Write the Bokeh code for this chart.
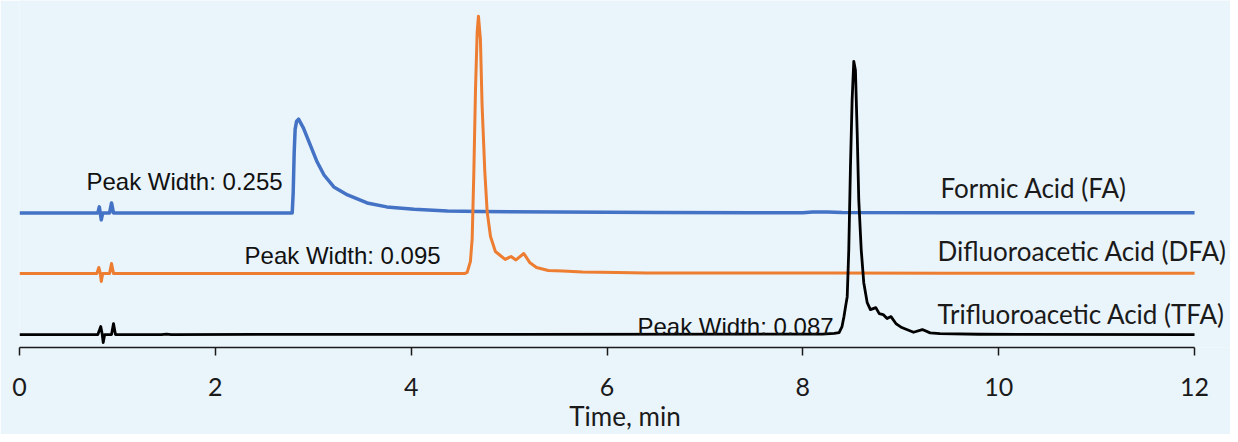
from bokeh.plotting import figure
from bokeh.models import Range1d, FixedTicker
from bokeh.embed import file_html
from bokeh.resources import INLINE
from bokeh.core.properties import value

BG = "#EAF4FB"

# ---- data: retention time (min) and detector response above each trace's own baseline (a.u.)
fa_time = [0.0, 0.80, 0.815, 0.825, 0.835, 0.85, 0.92, 0.94, 0.96, 2.785, 2.795, 2.805,
           2.815, 2.83, 2.85, 2.90, 2.97, 3.04, 3.11, 3.21, 3.35, 3.55, 3.75, 4.03, 4.37,
           4.71, 5.5, 6.5, 7.5, 8.0, 8.1, 8.25, 8.4, 9.5, 12.0]
fa_signal = [0, 0, 6, 0, -7, 0, 0, 10, 0, 0, 20, 60,
             84, 92, 94, 85, 68, 51, 38, 26, 18, 10, 6, 3.7, 2,
             1.3, 0.8, 0.4, 0.2, 0.2, 0.9, 0.9, 0.3, 0.2, 0.1]

dfa_time = [0.0, 0.79, 0.81, 0.825, 0.835, 0.85, 0.92, 0.94, 0.96, 4.55, 4.572, 4.605,
            4.623, 4.64, 4.657, 4.674, 4.687, 4.707, 4.724, 4.752, 4.776, 4.81, 4.86,
            4.91, 4.96, 5.02, 5.07, 5.15, 5.21, 5.28, 5.40, 5.55, 5.75, 6.1, 6.4, 8.0,
            8.3, 9.5, 12.0]
dfa_signal = [0, 0, 6, 0, -8, 0, 0, 10, 0, 0, 1, 12,
              35, 102, 185, 242, 258, 235, 169, 102, 62, 37, 22,
              18, 14, 17, 13.5, 20, 11, 6, 3, 2.5, 1.5, 1, 0.5, 0.3,
              0.5, 0.2, 0.2]

tfa_time = [0.0, 0.80, 0.83, 0.845, 0.855, 0.87, 0.94, 0.96, 0.98, 1.45, 1.5, 1.55,
            8.2, 8.32, 8.37, 8.40, 8.42, 8.436, 8.453, 8.469, 8.486, 8.503, 8.52, 8.537,
            8.555, 8.571, 8.596, 8.622, 8.657, 8.69, 8.745, 8.78, 8.82, 8.86, 8.9, 8.95,
            9.01, 9.13, 9.22, 9.3, 9.4, 9.8, 12.0]
tfa_signal = [0, 0, 8, 0, -8, 0, 0, 11, 0, 0, 0.5, 0,
              0.5, 1.2, 2, 8, 18, 28, 38, 85, 168, 235, 274, 265,
              202, 135, 85, 52, 32, 25, 27, 21, 20, 16, 18, 11,
              7, 2.3, 5, 1.7, 1, 0.3, 0]

offsets = [135, 74.3, 13]          # vertical stacking of the three traces
series_names = ["Formic Acid (FA)", "Difluoroacetic Acid (DFA)", "Trifluoroacetic Acid (TFA)"]
peak_widths = [0.255, 0.095, 0.087]
x_ticks = [0, 2, 4, 6, 8, 10, 12]
x_label = "Time, min"
colors = ["#4472C4", "#ED7D31", "#000000"]

# ---- figure
W, H = 1230, 434
LEFT = 19
FRAME_H = 348
PX_PER_MIN = 97.92
x_end = (W - LEFT) / PX_PER_MIN

p = figure(width=W, height=H, x_range=Range1d(0, x_end), y_range=Range1d(0, FRAME_H),
           y_axis_location=None, output_backend="svg", toolbar_location=None,
           min_border_left=LEFT, min_border_right=0, min_border_top=0,
           min_border_bottom=H - FRAME_H,
           background_fill_color=BG, border_fill_color=BG, outline_line_color=None)
p.xgrid.visible = False
p.ygrid.visible = False

ax = p.xaxis[0]
ax.ticker = FixedTicker(ticks=x_ticks)
ax.bounds = (0, 12)
ax.major_tick_out = 8
ax.major_tick_in = 0
ax.minor_tick_out = 0
ax.minor_tick_in = 0
ax.axis_line_width = 1.5
ax.axis_line_color = "#1a1a1a"
ax.major_tick_line_width = 1.5
ax.major_tick_line_color = "#1a1a1a"
ax.major_label_text_font = "Lato"
ax.major_label_text_font_size = "25px"
ax.major_label_text_color = "#1a1a1a"
ax.major_label_standoff = 22
ax.axis_label = x_label
ax.axis_label_text_font = "Lato"
ax.axis_label_text_font_size = "26px"
ax.axis_label_text_font_style = "normal"
ax.axis_label_text_color = "#1a1a1a"
ax.axis_label_standoff = 1

traces = [(fa_time, fa_signal), (dfa_time, dfa_signal), (tfa_time, tfa_signal)]
widths = [3.5, 3.0, 2.8]
for (t, s), off, c, lw in zip(traces, offsets, colors, widths):
    p.line(t, [v + off for v in s], line_color=c, line_width=lw, line_join="round")

# series names on the right
p.text(x=[9.406, 9.375, 9.375], y=[160.3, 97.0, 33.7], text=series_names,
       text_font=value("Lato"), text_font_size="26px", text_color="#1a1a1a",
       text_baseline="alphabetic", text_align="left")

# peak width annotations
p.text(x=[0.684, 2.298, 6.311], y=[166.3, 92.0, 21.0],
       text=[f"Peak Width: {w:.3f}" for w in peak_widths],
       text_font=value("Liberation Sans"), text_font_size="24px", text_color="#111111",
       text_baseline="alphabetic", text_align="left")

open("out.html", "w").write(file_html(p, INLINE))
